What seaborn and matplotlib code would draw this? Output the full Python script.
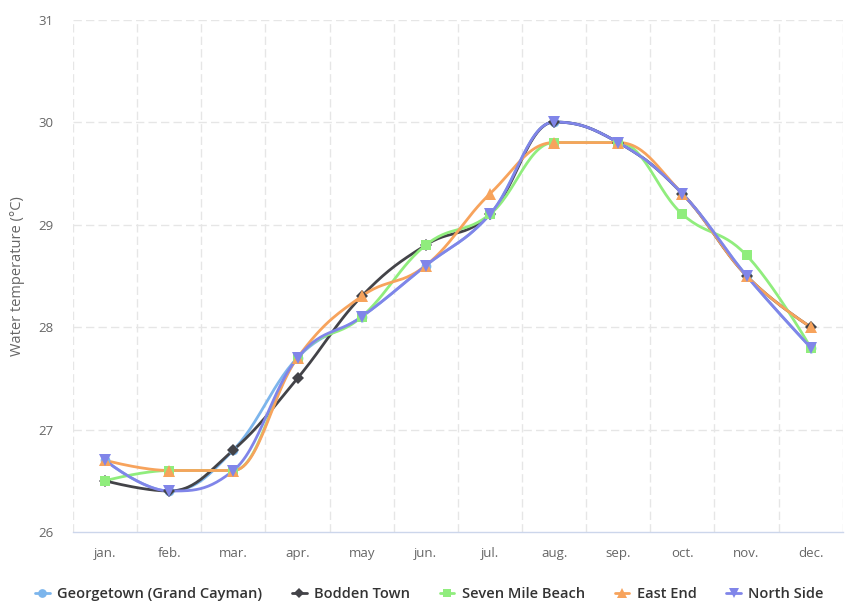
import matplotlib
matplotlib.use("Agg")
import matplotlib.pyplot as plt
from matplotlib.lines import Line2D
import seaborn as sns
import numpy as np
import pandas as pd

months = ["jan.", "feb.", "mar.", "apr.", "may", "jun.",
          "jul.", "aug.", "sep.", "oct.", "nov.", "dec."]

georgetown = [26.7, 26.4, 26.8, 27.7, 28.1, 28.6, 29.1, 30.0, 29.8, 29.3, 28.5, 27.8]
bodden_town = [26.5, 26.4, 26.8, 27.5, 28.3, 28.8, 29.1, 30.0, 29.8, 29.3, 28.5, 28.0]
seven_mile = [26.5, 26.6, 26.6, 27.7, 28.1, 28.8, 29.1, 29.8, 29.8, 29.1, 28.7, 27.8]
east_end = [26.7, 26.6, 26.6, 27.7, 28.3, 28.6, 29.3, 29.8, 29.8, 29.3, 28.5, 28.0]
north_side = [26.7, 26.4, 26.6, 27.7, 28.1, 28.6, 29.1, 30.0, 29.8, 29.3, 28.5, 27.8]

series = [
    ("Georgetown (Grand Cayman)", georgetown, "#7cb5ec", "o", 7),
    ("Bodden Town", bodden_town, "#434348", "D", 6),
    ("Seven Mile Beach", seven_mile, "#90ed7d", "s", 7),
    ("East End", east_end, "#f7a35c", "^", 8),
    ("North Side", north_side, "#8085e9", "v", 8),
]


def spline(xs, ys, smoothing=1.5, n=30):
    # courbe lissée façon "spline" (bezier cubique, contrôle par voisins)
    xs = np.asarray(xs, float)
    ys = np.asarray(ys, float)
    m = len(xs)
    lc = np.zeros((m, 2))
    rc = np.zeros((m, 2))
    for i in range(m):
        if i == 0 or i == m - 1:
            lc[i] = rc[i] = (xs[i], ys[i])
            continue
        lx = (smoothing * xs[i] + xs[i - 1]) / (smoothing + 1)
        ly = (smoothing * ys[i] + ys[i - 1]) / (smoothing + 1)
        rx = (smoothing * xs[i] + xs[i + 1]) / (smoothing + 1)
        ry = (smoothing * ys[i] + ys[i + 1]) / (smoothing + 1)
        corr = ((ry - ly) * (rx - xs[i])) / (rx - lx) + ys[i] - ry
        ly += corr
        ry += corr
        if ly > ys[i - 1] and ly > ys[i]:
            ly = max(ys[i - 1], ys[i]); ry = 2 * ys[i] - ly
        elif ly < ys[i - 1] and ly < ys[i]:
            ly = min(ys[i - 1], ys[i]); ry = 2 * ys[i] - ly
        if ry > ys[i + 1] and ry > ys[i]:
            ry = max(ys[i + 1], ys[i]); ly = 2 * ys[i] - ry
        elif ry < ys[i + 1] and ry < ys[i]:
            ry = min(ys[i + 1], ys[i]); ly = 2 * ys[i] - ry
        lc[i] = (lx, ly)
        rc[i] = (rx, ry)
    t = np.linspace(0, 1, n)[:, None]
    out = []
    for i in range(m - 1):
        p0 = np.array([xs[i], ys[i]])
        p1 = rc[i]
        p2 = lc[i + 1]
        p3 = np.array([xs[i + 1], ys[i + 1]])
        seg = ((1 - t) ** 3) * p0 + 3 * ((1 - t) ** 2) * t * p1 \
            + 3 * (1 - t) * t ** 2 * p2 + t ** 3 * p3
        out.append(seg if i == 0 else seg[1:])
    return np.vstack(out)


sns.set_theme(style="white")
plt.rcParams["font.family"] = ["Open Sans", "DejaVu Sans"]

fig = plt.figure(figsize=(8.47, 6.01), dpi=100)
ax = fig.add_axes([0.0862, 0.1148, 0.9088, 0.8527])

x = np.arange(len(months))
for name, vals, color, marker, ms in series:
    curve = spline(x, vals)
    df = pd.DataFrame({"x": curve[:, 0], "y": curve[:, 1]})
    sns.lineplot(data=df, x="x", y="y", sort=False, color=color, lw=2,
                 ax=ax, legend=False)
    ax.plot(x, vals, linestyle="none", marker=marker, ms=ms, color=color,
            markeredgewidth=0, zorder=3)

ax.set_xlim(-0.5, len(months) - 0.5)
ax.set_ylim(26, 31)
ax.set_xticks(x)
ax.set_xticklabels(months)
ax.set_yticks(range(26, 32))
ax.set_xlabel("")
ax.set_ylabel("Water temperature (°C)", color="#666666", fontsize=10.5)
ax.yaxis.set_label_coords(-0.062, 0.5)

for yv in range(27, 32):
    ax.axhline(yv, color="#e6e6e6", lw=1, ls=(0, (6, 3)), zorder=0)
for xv in np.arange(-0.5, len(months), 1.0):
    ax.axvline(xv, color="#e6e6e6", lw=1, ls=(0, (6, 3)), zorder=0)

for s in ["top", "right", "left"]:
    ax.spines[s].set_visible(False)
ax.spines["bottom"].set_color("#ccd6eb")
ax.spines["bottom"].set_linewidth(1)
ax.tick_params(axis="both", length=0, labelsize=9.5, colors="#666666")
ax.tick_params(axis="x", pad=11)
ax.tick_params(axis="y", pad=14)

handles = [Line2D([0], [0], color=c, lw=2, marker=mk, ms=ms * 0.9, markeredgewidth=0)
           for _, _, c, mk, ms in series]
labels = [s[0] for s in series]
leg = fig.legend(handles, labels, loc="lower center", bbox_to_anchor=(0.507, -0.022),
                 ncol=5, frameon=False, handlelength=1.0, columnspacing=2.05,
                 handletextpad=0.5,
                 prop={"size": 10.5, "weight": "semibold", "family": ["Open Sans", "DejaVu Sans"]})
for t in leg.get_texts():
    t.set_color("#333333")

fig.savefig("out.png", dpi=100)
